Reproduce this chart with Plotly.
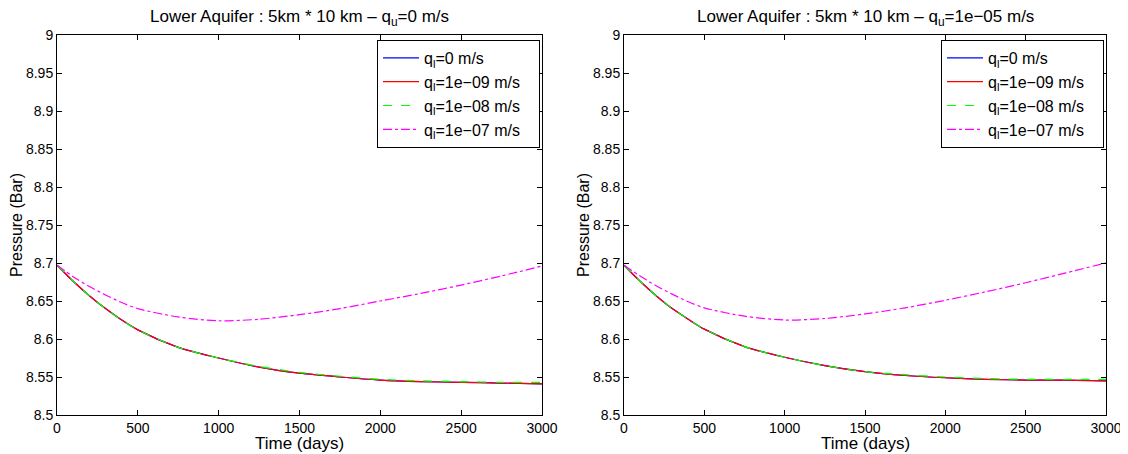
import plotly.graph_objects as go

# ---- data ----
t_days = [0, 100, 200, 300, 400, 500, 750, 1000, 1250, 1500, 1750, 2000, 2250, 2500, 2750, 3000]

labels = ["q<sub>l</sub>=0 m/s", "q<sub>l</sub>=1e\u221209 m/s",
          "q<sub>l</sub>=1e\u221208 m/s", "q<sub>l</sub>=1e\u221207 m/s"]

# left panel: q_u = 0 m/s
left_q0 = [8.697, 8.676, 8.657, 8.640, 8.625, 8.612, 8.589, 8.575, 8.563, 8.555, 8.550, 8.546, 8.544, 8.543, 8.542, 8.541]
left_q9 = [8.697, 8.676, 8.657, 8.640, 8.625, 8.612, 8.589, 8.575, 8.563, 8.555, 8.550, 8.546, 8.544, 8.543, 8.542, 8.541]
left_q8 = [8.697, 8.676, 8.657, 8.640, 8.625, 8.612, 8.589, 8.575, 8.564, 8.556, 8.551, 8.547, 8.545, 8.544, 8.543, 8.543]
left_q7 = [8.697, 8.682, 8.669, 8.658, 8.648, 8.640, 8.629, 8.624, 8.626, 8.632, 8.640, 8.650, 8.660, 8.671, 8.683, 8.696]

# right panel: q_u = 1e-05 m/s
right_q0 = [8.697, 8.676, 8.657, 8.640, 8.626, 8.613, 8.590, 8.576, 8.565, 8.557, 8.552, 8.549, 8.547, 8.546, 8.546, 8.545]
right_q9 = [8.697, 8.676, 8.657, 8.640, 8.626, 8.613, 8.590, 8.576, 8.565, 8.557, 8.552, 8.549, 8.547, 8.546, 8.546, 8.545]
right_q8 = [8.697, 8.676, 8.657, 8.640, 8.626, 8.613, 8.590, 8.576, 8.565, 8.557, 8.553, 8.550, 8.548, 8.547, 8.547, 8.547]
right_q7 = [8.697, 8.683, 8.670, 8.659, 8.649, 8.641, 8.630, 8.625, 8.627, 8.633, 8.641, 8.651, 8.662, 8.674, 8.687, 8.700]

titles = ["Lower Aquifer : 5km * 10 km \u2013 q<sub>u</sub>=0 m/s",
          "Lower Aquifer : 5km * 10 km \u2013 q<sub>u</sub>=1e\u221205 m/s"]

x_ticks = [0, 500, 1000, 1500, 2000, 2500, 3000]
y_ticks = [8.5, 8.55, 8.6, 8.65, 8.7, 8.75, 8.8, 8.85, 8.9, 8.95, 9.0]
y_ticktext = ["8.5", "8.55", "8.6", "8.65", "8.7", "8.75", "8.8", "8.85", "8.9", "8.95", "9"]

colors = ["#0000ff", "#ff0000", "#00ff00", "#ff00ff"]
dashes = ["solid", "solid", "dash", "dashdot"]

OFF = 8  # page body margin
W, H = 1128 - OFF, 454 - OFF
ML, MT = 57 - OFF, 35 - OFF
MR = W - (1106 - OFF)
MB = H - (415 - OFF)
PW, PH = W - ML - MR, H - MT - MB
FONT = "Liberation Sans, Arial, sans-serif"
PAD = "\u00a0\u00a0\u00a0"

fig = go.Figure()

panels = [
    ([left_q0, left_q9, left_q8, left_q7], "x", "y", "legend"),
    ([right_q0, right_q9, right_q8, right_q7], "x2", "y2", "legend2"),
]
for series, xa, ya, lg in panels:
    for i, vals in enumerate(series):
        fig.add_trace(go.Scatter(
            x=t_days, y=vals, mode="lines", name=labels[i] + PAD,
            line=dict(color=colors[i], width=1.2, dash=dashes[i], shape="spline", smoothing=0.8),
            xaxis=xa, yaxis=ya, legend=lg,
        ))

def fx(p):  # screen pixel x -> paper fraction
    return (p - OFF - ML) / PW

def fy(p):  # screen pixel y (from top) -> paper fraction
    return (H - MB - (p - OFF)) / PH

xdoms = [(fx(57), fx(542)), (fx(624), fx(1106))]

axis_common = dict(
    showgrid=False, zeroline=False, showline=True, linecolor="black", linewidth=1,
    mirror="allticks", ticks="inside", ticklen=5, tickcolor="black",
    tickfont=dict(family=FONT, size=14, color="black"), automargin=False,
)

leg_common = dict(xanchor="right", yanchor="top",
                  bgcolor="white", bordercolor="black", borderwidth=1,
                  font=dict(family=FONT, size=16, color="black"), tracegroupgap=0,
                  itemwidth=36)

fig.update_layout(
    width=W, height=H,
    margin=dict(l=ML, r=MR, t=MT, b=MB, autoexpand=False),
    paper_bgcolor="white", plot_bgcolor="white",
    font=dict(family=FONT, size=14, color="black"),
    xaxis=dict(domain=list(xdoms[0]), range=[0, 3000], tickvals=x_ticks, anchor="y", **axis_common),
    yaxis=dict(domain=[0, 1], range=[8.5, 9.0], tickvals=y_ticks, ticktext=y_ticktext, anchor="x", **axis_common),
    xaxis2=dict(domain=list(xdoms[1]), range=[0, 3000], tickvals=x_ticks, anchor="y2", **axis_common),
    yaxis2=dict(domain=[0, 1], range=[8.5, 9.0], tickvals=y_ticks, ticktext=y_ticktext, anchor="x2", **axis_common),
    legend=dict(x=fx(540), y=fy(40), **leg_common),
    legend2=dict(x=fx(1104), y=fy(40), **leg_common),
    showlegend=True,
)

annotations = []
for k, (x0, x1) in enumerate(xdoms):
    cx = (x0 + x1) / 2
    annotations.append(dict(text=titles[k], x=cx, y=fy(18), xref="paper", yref="paper",
                            xanchor="center", yanchor="middle", showarrow=False,
                            font=dict(family=FONT, size=17, color="black")))
    annotations.append(dict(text="Time (days)", x=cx, y=fy(444), xref="paper", yref="paper",
                            xanchor="center", yanchor="middle", showarrow=False,
                            font=dict(family=FONT, size=17, color="black")))
    annotations.append(dict(text="Pressure (Bar)", x=fx(16 + (0 if k == 0 else 567)), y=0.5,
                            xref="paper", yref="paper", xanchor="center", yanchor="middle",
                            textangle=-90, showarrow=False,
                            font=dict(family=FONT, size=16, color="black")))
fig.update_layout(annotations=annotations)

fig.write_html("out.html")
